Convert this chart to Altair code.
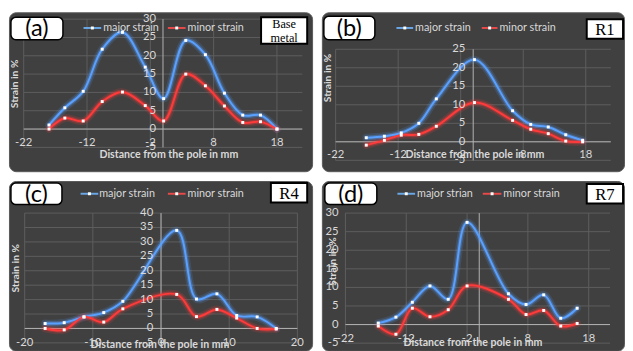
import altair as alt
import pandas as pd

# ---------------- data ----------------
# (a) Base metal
A_X = [-18.0, -15.5, -12.6, -9.6, -6.4, -2.8, 0.1, 3.6, 6.7, 9.7, 12.6, 15.4, 18.0]
A_MAJOR = [1.1, 5.8, 10.3, 21.8, 26.4, 16.9, 8.3, 24.2, 20.3, 9.8, 3.8, 3.8, 0.0]
A_MINOR = [0.0, 3.0, 2.2, 7.5, 10.1, 6.4, 2.2, 15.0, 11.8, 6.3, 1.8, 2.0, 0.0]
# (b) R1
B_X = [-17.1, -14.2, -11.5, -8.7, -5.9, 0.2, 6.3, 9.2, 12.0, 14.8, 17.5]
B_MAJOR = [1.1, 1.5, 2.4, 5.0, 11.6, 22.2, 8.4, 4.7, 4.0, 1.9, 0.4]
B_MINOR = [-0.9, 0.4, 1.8, 2.0, 4.2, 10.6, 5.8, 3.4, 2.2, 0.2, 0.0]
# (c) R4
C_X = [-17.0, -14.2, -11.3, -8.4, -5.6, 2.3, 5.2, 8.2, 11.1, 14.1, 16.9]
C_MAJOR = [1.7, 2.0, 4.0, 5.5, 9.4, 34.0, 10.2, 12.0, 4.5, 4.0, 0.0]
C_MINOR = [0.0, -0.5, 4.0, 2.2, 6.8, 11.8, 4.1, 6.6, 3.6, 0.0, -0.2]
# (d) R7
D_X = [-16.6, -13.7, -11.0, -8.1, -5.1, -2.0, 4.8, 7.7, 10.6, 13.4, 16.1]
D_MAJOR = [0.4, 2.0, 6.0, 10.4, 6.8, 27.5, 8.3, 5.4, 8.0, 1.7, 4.4]
D_MINOR = [-0.4, -2.6, 4.4, 2.1, 4.0, 10.4, 6.8, 2.7, 3.8, -0.4, 0.3]

X_TICKS_22 = [-22, -12, -2, 8, 18]
X_TICKS_20 = [-20, -10, 0, 10, 20]
Y_TICKS_A = [-5, 0, 5, 10, 15, 20, 25, 30]
Y_TICKS_B = [-5, 0, 5, 10, 15, 20, 25]
Y_TICKS_C = [-5, 0, 5, 10, 15, 20, 25, 30, 35, 40]
Y_TICKS_D = [-5, 0, 5, 10, 15, 20, 25, 30]

SERIES = ["major", "minor"]
X_TITLE = "Distance from the pole in mm"
Y_TITLE = "Strain in %"

# ---------------- style ----------------
BG = "#404040"
GRID = "#5e5e5e"
AXIS = "#b4b4b4"
TXT = "#d9d9d9"
BLUE = "#6aa7e6"
RED = "#e84a4a"
BLUE_GLOW = "#5aa0ff"
RED_GLOW = "#ff3a3a"
FONT = "Lato"
SERIF = "Liberation Serif"


def one():
    return pd.DataFrame({"k": [0]})


def panel(letter, tag, tag_size, major_name, xs_, major, minor, xdom, xticks,
          ydom, yticks, g):
    xs = alt.Scale(domain=xdom, range=g["xr"], nice=False, zero=False)
    ys = alt.Scale(domain=ydom, range=g["yr"], nice=False, zero=False)

    vgrid = pd.DataFrame({"v": xticks, "a": ydom[0], "b": ydom[1]})
    vgrid = vgrid[(vgrid.v >= xdom[0]) & (vgrid.v <= xdom[1])]
    hgrid = pd.DataFrame({"v": yticks, "a": xdom[0], "b": xdom[1]})
    axes_v = pd.DataFrame({"v": [0], "a": [ydom[0]], "b": [ydom[1]]})
    axes_h = pd.DataFrame({"v": [0], "a": [xdom[0]], "b": [xdom[1]]})

    rows = []
    for s, vals in zip(SERIES, [major, minor]):
        for i, (x, y) in enumerate(zip(xs_, vals)):
            rows.append({"x": x, "y": y, "s": s, "i": i})
    df = pd.DataFrame(rows)

    col = alt.Color("s:N", scale=alt.Scale(domain=SERIES, range=[BLUE, RED]), legend=None)
    gcol = alt.Color("s:N", scale=alt.Scale(domain=SERIES, range=[BLUE_GLOW, RED_GLOW]), legend=None)

    layers = []
    layers.append(alt.Chart(vgrid).mark_rule(color=GRID, strokeWidth=1).encode(
        x=alt.X("v:Q", scale=xs, axis=None), y=alt.Y("a:Q", scale=ys, axis=None), y2="b:Q"))
    layers.append(alt.Chart(hgrid).mark_rule(color=GRID, strokeWidth=1).encode(
        y=alt.Y("v:Q", scale=ys, axis=None), x=alt.X("a:Q", scale=xs, axis=None), x2="b:Q"))
    layers.append(alt.Chart(axes_v).mark_rule(color=AXIS, strokeWidth=1).encode(
        x=alt.X("v:Q", scale=xs, axis=None), y=alt.Y("a:Q", scale=ys, axis=None), y2="b:Q"))
    layers.append(alt.Chart(axes_h).mark_rule(color=AXIS, strokeWidth=1).encode(
        y=alt.Y("v:Q", scale=ys, axis=None), x=alt.X("a:Q", scale=xs, axis=None), x2="b:Q"))

    for w, op in [(8, 0.15), (4.5, 0.35)]:
        layers.append(alt.Chart(df).mark_line(interpolate="catmull-rom", strokeWidth=w,
                                              opacity=op, strokeCap="round").encode(
            x=alt.X("x:Q", scale=xs, axis=None), y=alt.Y("y:Q", scale=ys, axis=None),
            color=gcol, detail="s:N", order="i:Q"))
    layers.append(alt.Chart(df).mark_line(interpolate="catmull-rom", strokeWidth=2).encode(
        x=alt.X("x:Q", scale=xs, axis=None), y=alt.Y("y:Q", scale=ys, axis=None),
        color=col, detail="s:N", order="i:Q"))
    layers.append(alt.Chart(df).mark_square(size=9, color="white", opacity=1).encode(
        x=alt.X("x:Q", scale=xs, axis=None), y=alt.Y("y:Q", scale=ys, axis=None)))

    # tick labels
    ylab = pd.DataFrame({"v": yticks, "t": [str(t) for t in yticks], "x0": g["ylab_at"]})
    layers.append(alt.Chart(ylab).mark_text(align="right", baseline="middle", dx=g["ylab_dx"],
                                            fontSize=11.5, font=FONT, color=TXT).encode(
        x=alt.X("x0:Q", scale=xs, axis=None), y=alt.Y("v:Q", scale=ys, axis=None), text="t:N"))
    xlab = pd.DataFrame({"v": xticks, "t": [str(t) for t in xticks]})
    layers.append(alt.Chart(xlab).mark_text(align="center", baseline="middle",
                                            fontSize=11.5, font=FONT, color=TXT).encode(
        x=alt.X("v:Q", scale=xs, axis=None), y=alt.value(g["xlab_y"]), text="t:N"))

    # axis titles
    layers.append(alt.Chart(one()).mark_text(align="center", baseline="middle", fontSize=10.8,
                                             fontWeight="bold", font=FONT, color=TXT).encode(
        x=alt.value(g["xt"][0]), y=alt.value(g["xt"][1]), text=alt.value(X_TITLE)))
    layers.append(alt.Chart(one()).mark_text(align="center", baseline="middle", fontSize=10.5,
                                             fontWeight="bold", font=FONT, color=TXT, angle=270).encode(
        x=alt.value(g["yt"][0]), y=alt.value(g["yt"][1]), text=alt.value(Y_TITLE)))

    # legend
    lb1, lb2, lbt, lr1, lr2, lrt, ly = g["leg"]
    for (x1, x2, xt, c, name) in [(lb1, lb2, lbt, BLUE, major_name), (lr1, lr2, lrt, RED, "minor strain")]:
        layers.append(alt.Chart(one()).mark_rule(color=c, strokeWidth=2).encode(
            x=alt.value(x1), x2=alt.value(x2), y=alt.value(ly)))
        layers.append(alt.Chart(one()).mark_square(size=9, color="white", opacity=1).encode(
            x=alt.value((x1 + x2) / 2), y=alt.value(ly)))
        layers.append(alt.Chart(one()).mark_text(align="left", baseline="middle", fontSize=11,
                                                 font=FONT, color=TXT).encode(
            x=alt.value(xt), y=alt.value(ly), text=alt.value(name)))

    # letter box
    bx1, bx2, by1, by2 = g["box"]
    layers.append(alt.Chart(one()).mark_rect(fill="white", stroke="black", strokeWidth=1.5,
                                             cornerRadius=5).encode(
        x=alt.value(bx1), x2=alt.value(bx2), y=alt.value(by1), y2=alt.value(by2)))
    layers.append(alt.Chart(one()).mark_text(align="center", baseline="middle", fontSize=24,
                                             font=FONT, color="black").encode(
        x=alt.value((bx1 + bx2) / 2), y=alt.value((by1 + by2) / 2 + 1), text=alt.value(letter)))

    # tag box
    tx1, tx2, ty1, ty2 = g["tag"]
    lh = tag_size + 2
    if isinstance(tag, list):
        ty = (ty1 + ty2) / 2 - lh * (len(tag) - 1) / 2 + 0.5
    else:
        ty = (ty1 + ty2) / 2 + 1
    layers.append(alt.Chart(one()).mark_rect(fill="white", stroke="black", strokeWidth=2).encode(
        x=alt.value(tx1), x2=alt.value(tx2), y=alt.value(ty1), y2=alt.value(ty2)))
    layers.append(alt.Chart(one()).mark_text(align="center", baseline="middle", fontSize=tag_size,
                                             font=SERIF, color="black", lineHeight=lh).encode(
        x=alt.value((tx1 + tx2) / 2), y=alt.value(ty), text=alt.value(tag)))

    return alt.layer(*layers).properties(
        width=g["W"], height=g["H"],
        view=alt.ViewBackground(fill=BG, cornerRadius=7, stroke="#5a5a5a", strokeWidth=1))


GA = dict(W=309, H=162, xr=[15, 299], yr=[137.7, 7], xlab_y=133.5, ylab_at=0, ylab_dx=-7,
          xt=(163, 146), yt=(6, 73), leg=(76, 94, 96, 162, 180, 182, 16),
          box=(2, 55, 5, 28), tag=(257, 304, 5, 32))
GB = dict(W=308, H=162, xr=[14, 294.5], yr=[150.9, 37.7], xlab_y=146, ylab_at=0, ylab_dx=-8,
          xt=(156, 146), yt=(6, 67), leg=(76, 93, 95, 163, 179, 181, 16),
          box=(2, 54, 4, 28), tag=(270, 307, 7, 27))
GC = dict(W=309, H=173, xr=[16, 294], yr=[165, 32.7], xlab_y=165, ylab_at=0, ylab_dx=-8,
          xt=(154, 167), yt=(7, 89), leg=(73, 91, 92, 162, 180, 182, 13),
          box=(2, 54, 2, 24), tag=(267, 304, 2, 22))
GD = dict(W=308, H=173, xr=[24, 293.7], yr=[165.3, 32.7], xlab_y=161, ylab_at=-22, ylab_dx=-7,
          xt=(154, 165), yt=(11, 82), leg=(77, 95, 97, 164, 183, 185, 13),
          box=(3, 56, 2, 24), tag=(270, 307, 3, 23))

pa = panel("(a)", ["Base", "metal"], 12.5, "major strain", A_X, A_MAJOR, A_MINOR,
           [-22, 22], X_TICKS_22, [-5, 30], Y_TICKS_A, GA)
pb = panel("(b)", "R1", 17, "major strain", B_X, B_MAJOR, B_MINOR,
           [-22, 22], X_TICKS_22, [-5, 25], Y_TICKS_B, GB)
pc = panel("(c)", "R4", 17, "major strain", C_X, C_MAJOR, C_MINOR,
           [-20, 20], X_TICKS_20, [-5, 40], Y_TICKS_C, GC)
pd_ = panel("(d)", "R7", 17, "major strian", D_X, D_MAJOR, D_MINOR,
            [-22, 21.5], X_TICKS_22, [-5, 30], Y_TICKS_D, GD)

chart = alt.vconcat(
    alt.hconcat(pa, pb, spacing=8),
    alt.hconcat(pc, pd_, spacing=8),
    spacing=8,
).properties(padding=0, background="white")

chart.save("out.html", embed_options={"renderer": "svg", "actions": False})
